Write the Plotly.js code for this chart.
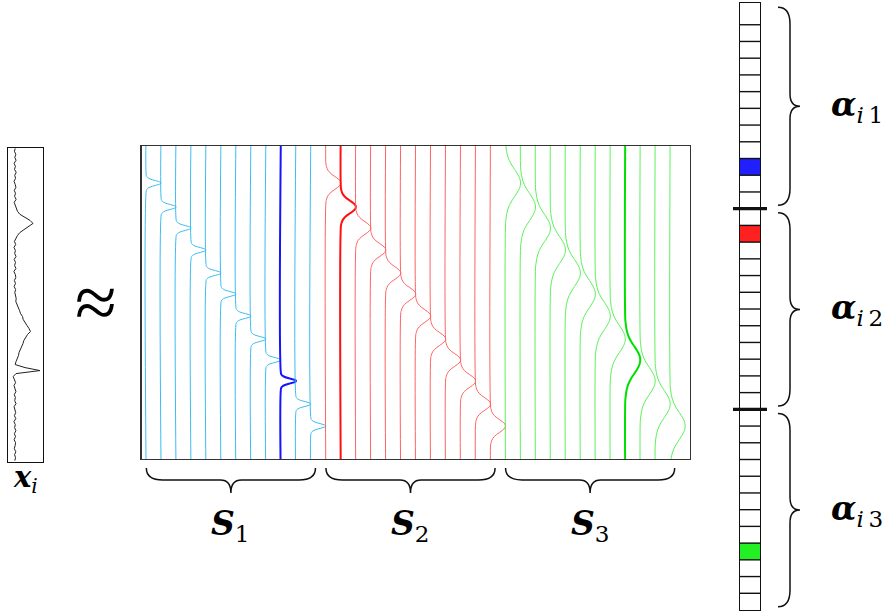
<!DOCTYPE html>
<html>
<head>
<meta charset="utf-8">
<script src="https://cdn.plot.ly/plotly-3.0.1.min.js"></script>
<style>html,body{margin:0;padding:0;background:#fff;}#chart{width:892px;height:614px;}</style>
</head>
<body>
<div id="chart"></div>
<script>
// ---------- DATA ----------
// observed signal x_i (horizontal deviation from baseline, one value per sample, top to bottom)
const signalValues = [
  0.3, -0.6, 0.8, -0.2, 1.0, -0.9, 0.4, -0.5, 1.2, -0.3, 0.6, -1.0, 0.2, 0.9, -0.7, 0.5, -0.4, 1.1, -0.8, 0.3,
  1.0, 2.5, 5, 9.5, 15, 18, 14, 9, 5, 2.5, 0.8,
  -0.6, 0.7, -1.0, 0.4, -0.3, 1.0, -0.8, 0.5, -0.4, 0.9, -1.1, 0.3, 0.8, -0.6, 0.5, -0.9, 0.6, -0.2, 0.9,
  1.2, 0.8, 2.2, 2.8, 4.5, 5.5, 7.5, 8.2, 10.5, 12, 14, 15.5, 12.5, 10.5, 8.8, 8, 6.5, 5.5, 4, 3.5, 2, 1, 0.2, 10, 25, 1, -1.8,
  -0.5, 0.6, -1.0, 0.3, 0.9, -0.7, 0.4, -0.3, 1.0, -0.9, 0.2, 0.7, -0.6, 0.8, -1.1, 0.3, -0.4, 0.9, -0.6, 0.5, -0.9, 0.6, 0.1, -0.7, 0.8, -0.4, 0.5, -0.2
];
// atom bump centres (sample position of the bump of atom k in each group)
const bumpCenters = [37, 61, 82, 104, 127, 148, 170, 193, 214, 235, 258, 280];
// bump shape (fraction of the atom spacing)
const bumpProfile = [0, 0.03, 0.07, 0.14, 0.25, 0.41, 0.61, 0.8, 0.95, 1, 0.95, 0.8, 0.61, 0.41, 0.25, 0.14, 0.07, 0.03, 0];
// bump sample spacing per group (S1 narrow, S2 medium, S3 wide)
const groupBumpSpread = [0.8, 2.1, 4.5];
// sparse code alpha_i, one array per group
const alphaGroup1 = [0, 0, 0, 0, 0, 0, 0, 0, 0, 1, 0, 0];
const alphaGroup2 = [0, 1, 0, 0, 0, 0, 0, 0, 0, 0, 0, 0];
const alphaGroup3 = [0, 0, 0, 0, 0, 0, 0, 0, 1, 0, 0, 0];
const groupSubscripts = ['1', '2', '3'];

// ---------- STYLE / LAYOUT ----------
const W = 892, H = 614;
const fx = p => p / W;
const fy = p => 1 - p / H;
const SIG_STEP = 3;
const BOX_LEN = 313;
const thinColors = ['#3cbcf0', '#ff6464', '#5cf05c'];
const boldColors = ['#1414ff', '#ff1010', '#00e000'];
const cellColors = ['#ffffff', '#2020ff', '#ff2020', '#22f022'];
const SERIF = 'DejaVu Serif';

const alphaGroups = [alphaGroup1, alphaGroup2, alphaGroup3];
const perGroup = alphaGroup1.length;
const nAtoms = perGroup * alphaGroups.length;

const traces = [];

// signal x_i
traces.push({
  type: 'scatter', mode: 'lines', xaxis: 'x', yaxis: 'y',
  x: signalValues, y: signalValues.map((v, i) => i * SIG_STEP),
  line: {color: '#222', width: 1}, hoverinfo: 'skip'
});

// dictionary atoms
alphaGroups.forEach((grp, g) => {
  grp.forEach((a, k) => {
    const idx = g * perGroup + k;
    const xs = [idx], ys = [-30];
    const mid = (bumpProfile.length - 1) / 2;
    bumpProfile.forEach((v, j) => {
      xs.push(idx + v);
      ys.push(bumpCenters[k] + (j - mid) * groupBumpSpread[g]);
    });
    xs.push(idx); ys.push(BOX_LEN + 40);
    traces.push({
      type: 'scatter', mode: 'lines', xaxis: 'x2', yaxis: 'y2', x: xs, y: ys,
      line: {color: a ? boldColors[g] : thinColors[g], width: a ? 2 : 1, shape: 'spline', smoothing: 1},
      hoverinfo: 'skip'
    });
  });
});

// coefficient column as heatmap
const zCol = [];
alphaGroups.forEach((grp, g) => grp.forEach(v => zCol.push([v ? g + 1 : 0])));
traces.push({
  type: 'heatmap', xaxis: 'x3', yaxis: 'y3', z: zCol, x: [0], y: zCol.map((r, i) => i),
  zmin: 0, zmax: 3, showscale: false, hoverinfo: 'skip',
  colorscale: [[0, cellColors[0]], [0.1667, cellColors[0]], [0.1667, cellColors[1]], [0.5, cellColors[1]],
               [0.5, cellColors[2]], [0.8333, cellColors[2]], [0.8333, cellColors[3]], [1, cellColors[3]]]
});
// cell borders
const bx = [], by = [];
for (let i = 0; i < nAtoms - 1; i++) { bx.push(-0.5, 0.5, null); by.push(i + 0.5, i + 0.5, null); }
traces.push({type: 'scatter', mode: 'lines', xaxis: 'x3', yaxis: 'y3', x: bx, y: by,
  line: {color: '#111', width: 1.4}, hoverinfo: 'skip'});

// ---------- SHAPES ----------
const shapes = [];
for (let g = 1; g < alphaGroups.length; g++) {
  shapes.push({type: 'line', xref: 'paper', yref: 'y3', x0: fx(733), x1: fx(767),
    y0: g * perGroup - 0.5, y1: g * perGroup - 0.5, line: {color: '#111', width: 3.2}});
}
// bottom braces (under atom groups)
const bY0 = fy(468), bYm = fy(480), bY1 = fy(493);
const qE = 1.1, qM = 0.7;
const bottomTips = [];
alphaGroups.forEach((grp, g) => {
  const xs = g * perGroup, xe = g * perGroup + perGroup - 0.7, xc = (xs + xe) / 2;
  bottomTips.push(xc);
  shapes.push({type: 'path', xref: 'x2', yref: 'paper', line: {color: '#111', width: 1.5},
    path: `M ${xs},${bY0} Q ${xs},${bYm} ${xs + qE},${bYm} L ${xc - qM},${bYm} Q ${xc},${bYm} ${xc},${bY1} ` +
          `Q ${xc},${bYm} ${xc + qM},${bYm} L ${xe - qE},${bYm} Q ${xe},${bYm} ${xe},${bY0}`});
});
// right braces (next to coefficient groups)
const rX0 = fx(778), rXm = fx(790), rX1 = fx(800);
const rqE = 1.0, rqM = 0.75;
const rightTips = [];
alphaGroups.forEach((grp, g) => {
  const ys = (g === 0 ? -0.8 : g * perGroup - 0.5) + 0.25;
  const ye = g * perGroup + perGroup - 0.5 - 0.2;
  const yc = (ys + ye) / 2;
  rightTips.push(yc);
  shapes.push({type: 'path', xref: 'paper', yref: 'y3', line: {color: '#111', width: 1.5},
    path: `M ${rX0},${ys} Q ${rXm},${ys} ${rXm},${ys + rqE} L ${rXm},${yc - rqM} Q ${rXm},${yc} ${rX1},${yc} ` +
          `Q ${rXm},${yc} ${rXm},${yc + rqM} L ${rXm},${ye - rqE} Q ${rXm},${ye} ${rX0},${ye}`});
});

// ---------- ANNOTATIONS ----------
const annotations = [];
annotations.push({xref: 'x domain', yref: 'paper', x: 0.5, y: fy(479), yanchor: 'middle', showarrow: false,
  text: '<b><i>x</i></b><sub><i>i</i></sub>', font: {family: SERIF, size: 29, color: '#000'}});
annotations.push({xref: 'paper', yref: 'paper', x: fx(73), xanchor: 'left', y: fy(302), yanchor: 'middle', showarrow: false,
  text: '≈', font: {family: 'Liberation Serif', size: 76, color: '#000'}});
groupSubscripts.forEach((s, g) => {
  annotations.push({xref: 'x2', yref: 'paper', x: bottomTips[g], y: fy(525), yanchor: 'middle', showarrow: false,
    text: '<b><i>S</i></b><sub>' + s + '</sub>', font: {family: SERIF, size: 33, color: '#000'}});
  annotations.push({xref: 'paper', yref: 'y3', x: fx(829), xanchor: 'left', y: rightTips[g], yanchor: 'middle', showarrow: false,
    text: '<b><i>α</i></b><sub><i>i</i>\u2009' + s + '</sub>', font: {family: SERIF, size: 33, color: '#000'}});
});

// ---------- AXES ----------
const hidden = {showticklabels: false, ticks: '', showgrid: false, zeroline: false, fixedrange: true,
  showline: true, mirror: true, linecolor: '#111'};
const layout = {
  width: W, height: H, margin: {l: 0, r: 0, t: 0, b: 0},
  font: {family: SERIF},
  paper_bgcolor: '#fff', plot_bgcolor: '#fff', showlegend: false,
  xaxis: Object.assign({}, hidden, {domain: [fx(8.3), fx(43.3)], range: [-6.7, 28.3], anchor: 'y', linewidth: 1}),
  yaxis: Object.assign({}, hidden, {domain: [fy(461.7), fy(148.3)], range: [BOX_LEN, 0], anchor: 'x', linewidth: 1}),
  xaxis2: Object.assign({}, hidden, {domain: [fx(141.7), fx(689.5)], range: [-0.31, 36.29], anchor: 'y2', linewidth: 1.4, linecolor: '#333'}),
  yaxis2: Object.assign({}, hidden, {domain: [fy(459), fy(146)], range: [BOX_LEN, 0], anchor: 'x2', linewidth: 1.4, linecolor: '#333'}),
  xaxis3: Object.assign({}, hidden, {domain: [fx(740), fx(760)], range: [-0.5, 0.5], anchor: 'y3', linewidth: 1.4}),
  yaxis3: Object.assign({}, hidden, {domain: [fy(610), fy(3)], range: [nAtoms - 0.5, -0.8], anchor: 'x3', linewidth: 1.4}),
  shapes: shapes, annotations: annotations
};

Plotly.newPlot('chart', traces, layout, {staticPlot: true, displayModeBar: false});
</script>
</body>
</html>
